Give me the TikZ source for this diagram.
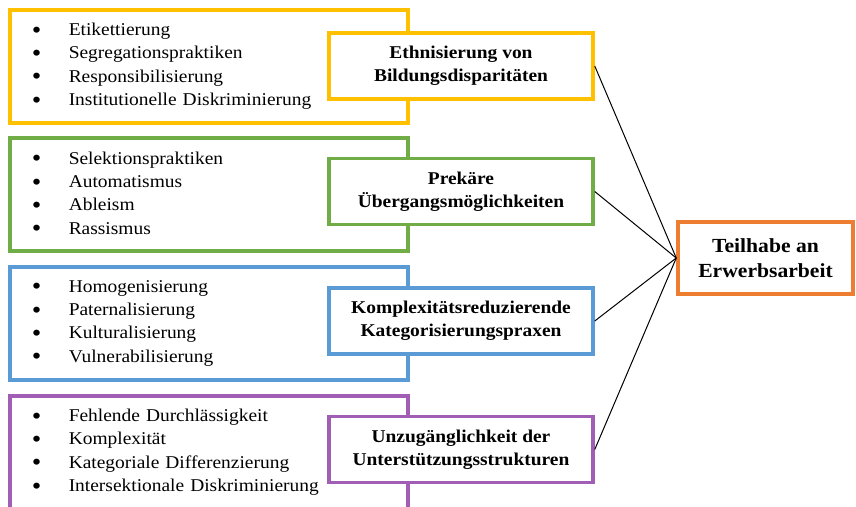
\documentclass[tikz,border=0pt]{standalone}
\usepackage{fontspec}
\setmainfont[FakeStretch=1.08]{Liberation Serif}
\usepackage{tikz}

\definecolor{gelb}{RGB}{255,192,0}
\definecolor{gruen}{RGB}{112,173,71}
\definecolor{blau}{RGB}{91,155,213}
\definecolor{lila}{RGB}{160,95,180}
\definecolor{zielorange}{RGB}{237,125,49}

\newcommand{\punkt}[1]{\makebox[37pt][l]{\raisebox{-2.5pt}{\scalebox{1.4}{\textbullet}}}#1}

\tikzset{
  liste/.style={draw=#1, line width=3.5pt, anchor=north west,
    minimum width=398pt, minimum height=113pt, inner xsep=22pt,
    text width=354pt, align=left, font=\fontsize{18}{23.3}\selectfont},
  kopf/.style={draw=#1, fill=white, line width=3.5pt,
    minimum width=264pt, minimum height=66pt, align=center,
    font=\bfseries\fontsize{18}{23}\selectfont},
}

\begin{document}
\begin{tikzpicture}[x=1pt, y=-1pt]
      \useasboundingbox (0,0) rectangle (856,506);
      % Listen
      \node[liste=gelb] (liste1) at (8,8) {\punkt{Etikettierung}\\ \punkt{Segregationspraktiken}\\ \punkt{Responsibilisierung}\\ \punkt{Institutionelle Diskriminierung}};
      \node[liste=gruen] (liste2) at (8,136) {\punkt{Selektionspraktiken}\\ \punkt{Automatismus}\\ \punkt{Ableism}\\ \punkt{Rassismus}};
      \node[liste=blau] (liste3) at (8,265) {\punkt{Homogenisierung}\\ \punkt{Paternalisierung}\\ \punkt{Kulturalisierung}\\ \punkt{Vulnerabilisierung}};
      \node[liste=lila] (liste4) at (8,394) {\punkt{Fehlende Durchlässigkeit}\\ \punkt{Komplexität}\\ \punkt{Kategoriale Differenzierung}\\ \punkt{Intersektionale Diskriminierung}};
      % Kategorien
      \node[kopf=gelb] (kopf1) at (461,66) {Ethnisierung von\\ Bildungsdisparitäten};
      \node[kopf=gruen] (kopf2) at (461,191.5) {Prekäre\\ Übergangsmöglichkeiten};
      \node[kopf=blau] (kopf3) at (461,321) {Komplexitätsreduzierende\\ Kategorisierungspraxen};
      \node[kopf=lila] (kopf4) at (461,449.5) {Unzugänglichkeit der\\ Unterstützungsstrukturen};
      % Ziel
      \node[kopf=zielorange, minimum width=175pt, minimum height=72pt,
        font=\bfseries\fontsize{20}{25}\selectfont] (ziel) at (765.5,258) {Teilhabe an\\ Erwerbsarbeit};
      \foreach \k in {1,...,4} {
        \draw[line width=1pt] (kopf\k.east) -- (ziel.west);
      }
    \end{tikzpicture}
\end{document}
